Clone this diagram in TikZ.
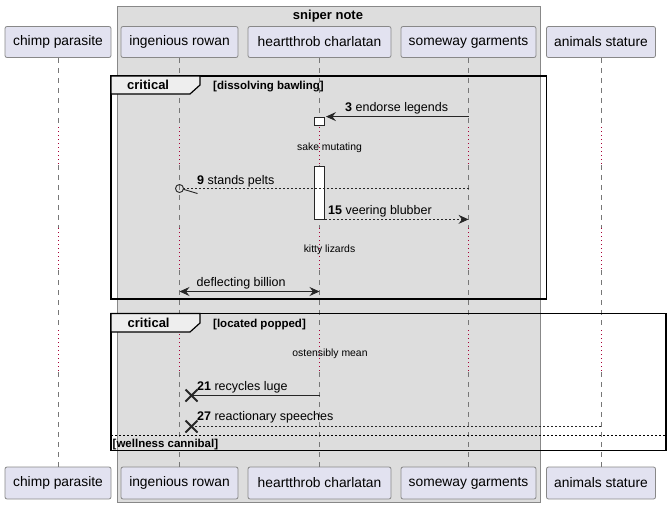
\documentclass[tikz,border=0pt]{standalone}
\usepackage{fontspec}
\setmainfont{Liberation Sans}
\usetikzlibrary{arrows.meta,calc}
\definecolor{partfill}{HTML}{E2E2F0}
\definecolor{partdraw}{HTML}{888888}
\definecolor{boxfill}{HTML}{DDDDDD}
\definecolor{boxdraw}{HTML}{888888}
\definecolor{tabfill}{HTML}{EEEEEE}
\definecolor{delayred}{HTML}{A80036}
\definecolor{lifegray}{HTML}{777777}
\tikzset{
  part/.style={draw=partdraw, fill=partfill, rounded corners=2pt, line width=0.8pt,
    font=\fontsize{13.8}{16}\selectfont, inner sep=0pt},
  life/.style={draw=lifegray, line width=0.6pt, dash pattern=on 5pt off 5pt},
  delay/.style={draw=delayred, line width=0.8pt, dash pattern=on 1pt off 3pt},
  frame/.style={draw=black, line width=1.5pt},
  msgtxt/.style={font=\fontsize{12.5}{14}\selectfont, inner sep=0pt, anchor=base west},
  delaytxt/.style={font=\fontsize{10.4}{12}\selectfont, inner sep=0pt, anchor=base},
  guardtxt/.style={font=\bfseries\fontsize{11.5}{13}\selectfont, inner sep=0pt, anchor=base west},
  fragtxt/.style={font=\bfseries\fontsize{13}{15}\selectfont, inner sep=0pt, anchor=base west},
  msg/.style={draw=black!85, line width=1pt},
  dmsg/.style={draw=black!85, line width=0.8pt, dash pattern=on 2pt off 2pt},
  actbox/.style={draw=black!85, fill=white, line width=0.8pt, inner sep=0pt, minimum width=10.5pt},
  >={Stealth[length=10pt,width=9pt,inset=3.5pt]}
}
\begin{document}
\begin{tikzpicture}[x=1pt,y=-1pt]
\useasboundingbox (0,0) rectangle (672,507);
% box
\fill[boxfill, draw=boxdraw, line width=0.8pt] (117,6) rectangle (540,502);
\node[font=\bfseries\fontsize{13}{15}\selectfont, inner sep=0pt, anchor=base] (boxtitle) at (328,19) {sniper note};
% participants
\node[part, minimum width=106pt, minimum height=31pt] (cp) at (58,42) {chimp parasite};
\node[part, minimum width=117pt, minimum height=31pt] (ir) at (179.5,42) {ingenious rowan};
\node[part, minimum width=143pt, minimum height=31pt] (hc) at (319.5,42) {heartthrob charlatan};
\node[part, minimum width=135pt, minimum height=31pt] (sg) at (468.5,42) {someway garments};
\node[part, minimum width=109pt, minimum height=31pt] (as) at (601,42) {animals stature};
\node[part, minimum width=106pt, minimum height=32pt] (bcp) at (58,483) {chimp parasite};
\node[part, minimum width=117pt, minimum height=32pt] (bir) at (179.5,483) {ingenious rowan};
\node[part, minimum width=143pt, minimum height=32pt] (bhc) at (319.5,483) {heartthrob charlatan};
\node[part, minimum width=135pt, minimum height=32pt] (bsg) at (468.5,483) {someway garments};
\node[part, minimum width=109pt, minimum height=32pt] (bas) at (601,483) {animals stature};
% lifelines
\foreach \p in {cp,ir,hc,sg,as}{
  \draw[life] (\p.south) -- (\p |- 0,127);
  \draw[delay] (\p |- 0,127) -- (\p |- 0,165);
  \draw[life] (\p |- 0,165) -- (\p |- 0,228);
  \draw[delay] (\p |- 0,228) -- (\p |- 0,270);
  \draw[life] (\p |- 0,270) -- (\p |- 0,330);
  \draw[delay] (\p |- 0,330) -- (\p |- 0,372);
  \draw[life] (\p |- 0,372) -- (b\p.north);
}
% critical frame 1
\draw[frame] (111,76) rectangle (546.5,299);
\filldraw[fill=tabfill, draw=black, line width=1.2pt] (111,76) -- (200,76) -- (200,85) -- (190,94) -- (111,94) -- cycle;
\node[fragtxt] (crit1) at (127,89.5) {critical};
\node[guardtxt] (g1) at (213,89) {[dissolving bawling]};
% critical frame 2
\draw[frame] (111,313.5) rectangle (666,450.5);
\filldraw[fill=tabfill, draw=black, line width=1.2pt] (111,313.5) -- (200,313.5) -- (200,323) -- (190,332) -- (111,332) -- cycle;
\node[fragtxt] (crit2) at (127.5,327.5) {critical};
\node[guardtxt] (g2) at (213,327) {[located popped]};
\draw[black, line width=0.8pt, dash pattern=on 2pt off 2pt] (111,435) -- (666,435);
\node[guardtxt] (g3) at (112.5,447) {[wellness cannibal]};
% activations
\node[actbox, minimum height=8pt] (act1) at (319.5,121) {};
\node[actbox, minimum height=53pt] (act2) at (319.5,192.5) {};
% message 3
\draw[msg,->] (sg |- act1.north east) -- ($(act1.north east)+(0.8,0)$);
\node[msgtxt] (t3) at (345,111) {\textbf{3} endorse legends};
% delay 1
\node[delaytxt] (d1) at (329.5,150) {sake mutating};
% message 9
\coordinate (m9) at (ir |- 0,188.5);
\draw[dmsg] (sg |- m9) -- ($(m9)+(4.5,0)$);
\draw[draw=black!85, line width=0.9pt] (m9) circle (4);
\draw[draw=black!85, line width=0.9pt] ($(m9)+(4,0.8)$) -- ($(m9)+(18,5)$);
\node[msgtxt] (t9) at (197,184) {\textbf{9} stands pelts};
% message 15
\draw[dmsg,->] (act2.south east) -- (sg |- act2.south east);
\node[msgtxt] (t15) at (328,214) {\textbf{15} veering blubber};
% delay 2
\node[delaytxt] (d2) at (329.5,252.7) {kitty lizards};
% deflecting billion
\draw[msg,<->] (ir |- 0,291.5) -- (hc |- 0,291.5);
\node[msgtxt] (tdb) at (196.5,286.7) {deflecting billion};
% delay 3
\node[delaytxt] (d3) at (330,356.7) {ostensibly mean};
% message 21
\coordinate (x21) at (191.5,395.5);
\draw[msg] (hc |- x21) -- (x21);
\draw[draw=black!85, line width=1.8pt] ($(x21)+(-6,-6)$) -- ($(x21)+(6,6)$) ($(x21)+(-6,6)$) -- ($(x21)+(6,-6)$);
\node[msgtxt] (t21) at (197,390.7) {\textbf{21} recycles luge};
% message 27
\coordinate (x27) at (191.5,426.5);
\draw[dmsg] (as |- x27) -- (x27);
\draw[draw=black!85, line width=1.8pt] ($(x27)+(-6,-6)$) -- ($(x27)+(6,6)$) ($(x27)+(-6,6)$) -- ($(x27)+(6,-6)$);
\node[msgtxt] (t27) at (197,420.7) {\textbf{27} reactionary speeches};
\end{tikzpicture}
\end{document}
